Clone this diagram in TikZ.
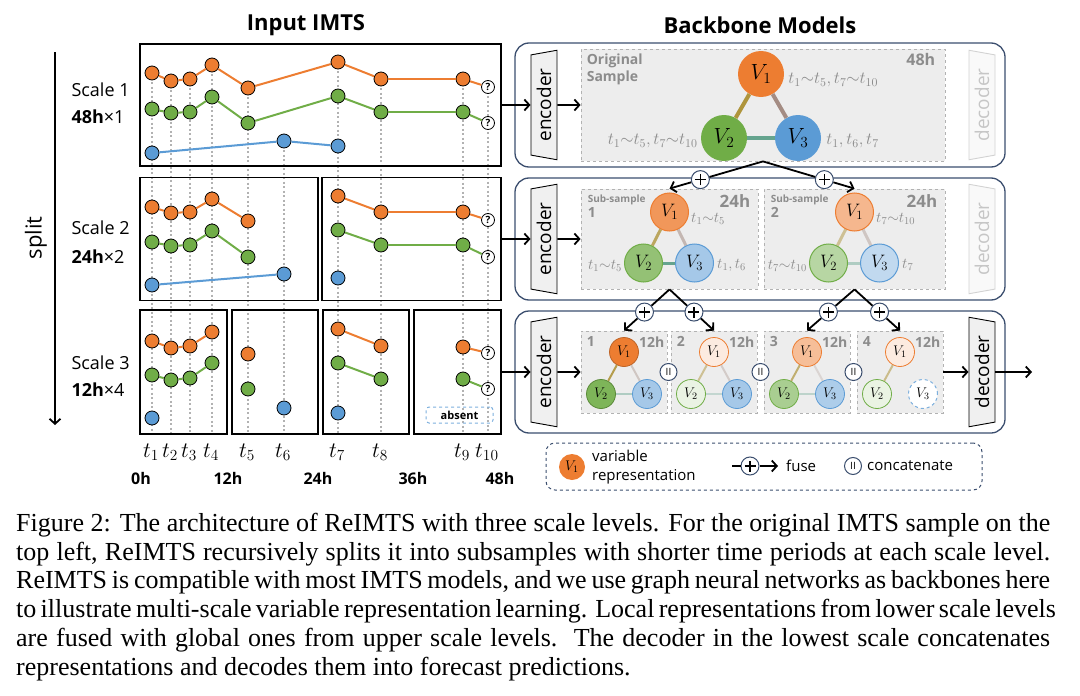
\documentclass[tikz,border=0pt]{standalone}
\usepackage{fix-cm}
\usepackage{fontspec}
\setmainfont{Liberation Serif}
\setsansfont{Open Sans}
\renewcommand{\familydefault}{\sfdefault}
\usetikzlibrary{positioning, calc, arrows.meta, shapes.geometric}

\definecolor{cOrange}{HTML}{ED7D31}
\definecolor{cGreen}{HTML}{70AD47}
\definecolor{cBlue}{HTML}{5B9BD5}
\definecolor{cNavy}{HTML}{3B4E6E}
\definecolor{cPanelGray}{HTML}{EDEDED}
\definecolor{cLabelGray}{HTML}{8C8C8C}

\newcommand{\fsz}[1]{\fontsize{#1}{#1}\selectfont}
% one variable inside one box: points and the line through them
\newcommand{\imtsline}[3]{%
  \foreach \px/\py [count=\i, remember=\i as \j (initially 0)] in {#3} {%
    \node[obs, fill=#2] (#1\i) at (\px,\py) {};
    \ifnum\i>1 \draw[obsline, draw=#2] (#1\j) -- (#1\i);\fi
  }}

\begin{document}
\begin{tikzpicture}[
		x=1pt, y=-1pt,
		>={Straight Barb[length=5pt, width=11pt]},
		arr/.style={->, line width=1.8pt},
		fline/.style={line width=1.8pt},
		obs/.style={circle, draw=black, line width=0.8pt, minimum size=14pt, inner sep=0pt},
		qobs/.style={circle, draw=black, line width=0.8pt, fill=white, minimum size=13pt, inner sep=0pt, font=\bfseries\fsz{10}},
		obsline/.style={line width=2pt},
		tdot/.style={draw=gray!60, line width=1.8pt, dash pattern=on 2pt off 2.5pt},
		lbox/.style={draw, line width=1.5pt, inner sep=0pt},
		panel/.style={draw=cNavy, line width=1.3pt, rounded corners=14pt, inner sep=0pt, minimum width=490pt},
		inbox/.style={draw=gray!60, fill=cPanelGray, dashed, line width=0.8pt, inner sep=0pt},
		coder/.style={trapezium, rotate=90, trapezium angle=77, trapezium stretches=true, minimum width=110pt, minimum height=26pt, draw, line width=0.9pt, fill=gray!12, inner sep=0pt, font=\fsz{19}},
		fadecoder/.style={coder, shape border rotate=180, draw=gray!35, fill=gray!5, text=gray!45},
		vbig/.style={circle, inner sep=0pt, minimum size=46pt, font=\fsz{22}},
		vmid/.style={circle, inner sep=0pt, minimum size=38pt, line width=1pt, font=\fsz{18}},
		vsml/.style={circle, inner sep=0pt, minimum size=29pt, line width=0.8pt, font=\fsz{14}},
		eOG/.style={draw=cOrange!50!cGreen},
		eOB/.style={draw=cOrange!50!cBlue},
		eGB/.style={draw=cGreen!50!cBlue},
		tlab/.style={text=cLabelGray, inner sep=0pt},
		boxlab/.style={text=cLabelGray, inner sep=0pt, font=\bfseries\fsz{14}},
		plusc/.style={circle, draw=cNavy, line width=1pt, fill=white, minimum size=18pt, inner sep=0pt,
			path picture={\draw[black, line width=1.6pt]
				([xshift=-5.5pt]path picture bounding box.center) -- ([xshift=5.5pt]path picture bounding box.center)
				([yshift=-5.5pt]path picture bounding box.center) -- ([yshift=5.5pt]path picture bounding box.center);}},
		catc/.style={circle, draw=cNavy, line width=1pt, fill=white, minimum size=17pt, inner sep=0pt, font=\fsz{10}},
	]
	\useasboundingbox (0,0) rectangle (1080,696);

	% titles
	\node[font=\bfseries\fsz{22}] (ttlin) at (306,25) {Input IMTS};
	\node[font=\bfseries\fsz{22}] (ttlbb) at (760,25) {Backbone Models};

	% split axis
	\coordinate (sp0) at (55,52);
	\coordinate (sp1) at (55,425);
	\draw[arr] (sp0) -- (sp1);
	\node[rotate=90, font=\fsz{22}] (splitlab) at (36,238) {split};

	% scale labels
	\node[anchor=west, font=\fsz{18}] (sc1) at (68,90) {Scale 1};
	\node[anchor=west, font=\fsz{18}] (sc1h) at (68,117) {\textbf{48h}×1};
	\node[anchor=west, font=\fsz{18}] (sc2) at (68,228) {Scale 2};
	\node[anchor=west, font=\fsz{18}] (sc2h) at (68,257) {\textbf{24h}×2};
	\node[anchor=west, font=\fsz{18}] (sc3) at (68,363) {Scale 3};
	\node[anchor=west, font=\fsz{18}] (sc3h) at (68,390) {\textbf{12h}×4};

	% time grid
	\foreach \tx/\ty in {152/73, 171/81, 190/79, 212/65, 248/88, 284/141, 338/62, 381/79, 463/79, 488/87}
		\draw[tdot] (\tx,\ty) -- (\tx,434);

	% input boxes
	\node[lbox, minimum width=361pt, minimum height=122pt] (lb1) at (320.5,105) {};
	\node[lbox, minimum width=178pt, minimum height=123pt] (lb2a) at (229,239) {};
	\node[lbox, minimum width=179pt, minimum height=123pt] (lb2b) at (411.5,239) {};
	\node[lbox, minimum width=87pt, minimum height=124pt] (lb3a) at (183.5,372) {};
	\node[lbox, minimum width=86pt, minimum height=124pt] (lb3b) at (275,372) {};
	\node[lbox, minimum width=86pt, minimum height=124pt] (lb3c) at (366,372) {};
	\node[lbox, minimum width=87pt, minimum height=124pt] (lb3d) at (457.5,372) {};

	% scale 1
	\imtsline{so}{cOrange}{152/73,171/81,190/79,212/65,248/88,338/62,381/79,463/79}
	\imtsline{sg}{cGreen}{152/109,171/113,190/112,212/97,248/123,338/96,381/112,463/112}
	\imtsline{sb}{cBlue}{152/153,284/141,338/146}
	\node[qobs] (soq) at (488,87) {?};
	\node[qobs] (sgq) at (488,123) {?};
	\draw[obsline, cOrange] (so8) -- (soq);
	\draw[obsline, cGreen] (sg8) -- (sgq);

	% scale 2
	\imtsline{hoa}{cOrange}{152/207,171/213,190/212,212/199,248/221}
	\imtsline{hga}{cGreen}{152/242,171/246,190/245,212/231,248/257}
	\imtsline{hba}{cBlue}{152/285,284/274}
	\imtsline{hob}{cOrange}{338/196,381/212,463/212}
	\imtsline{hgb}{cGreen}{338/230,381/245,463/245}
	\imtsline{hbb}{cBlue}{338/278}
	\node[qobs] (hoq) at (488,220) {?};
	\node[qobs] (hgq) at (488,257) {?};
	\draw[obsline, cOrange] (hob3) -- (hoq);
	\draw[obsline, cGreen] (hgb3) -- (hgq);

	% scale 3
	\imtsline{qoa}{cOrange}{152/341,171/348,190/346,212/332}
	\imtsline{qga}{cGreen}{152/375,171/380,190/378,212/363}
	\imtsline{qba}{cBlue}{152/418}
	\imtsline{qob}{cOrange}{248/354}
	\imtsline{qgb}{cGreen}{248/389}
	\imtsline{qbb}{cBlue}{284/408}
	\imtsline{qoc}{cOrange}{338/329,381/346}
	\imtsline{qgc}{cGreen}{338/363,381/379}
	\imtsline{qbc}{cBlue}{338/413}
	\imtsline{qod}{cOrange}{463/347}
	\imtsline{qgd}{cGreen}{463/379}
	\node[qobs] (qoq) at (488,353) {?};
	\node[qobs] (qgq) at (488,389) {?};
	\draw[obsline, cOrange] (qod1) -- (qoq);
	\draw[obsline, cGreen] (qgd1) -- (qgq);
	\node[draw=cBlue!80, dashed, line width=1pt, rounded corners=3pt, minimum width=67pt, minimum height=16pt, inner sep=0pt, font=\bfseries\fsz{11}] (absent) at (459.5,415) {absent};

	% time axis
	\foreach \tx/\tn in {152/1, 171/2, 190/3, 212/4, 248/5, 284/6, 338/7, 381/8, 463/9}
		\node[anchor=west, inner sep=0pt, font=\fsz{22}] (tl\tn) at (\tx-9,452) {$t_{\tn}$};
	\node[anchor=west, inner sep=0pt, font=\fsz{22}] (tl10) at (475,452) {$t_{10}$};
	\foreach \hx/\hn in {141/0h, 228/12h, 318/24h, 413/36h, 500/48h}
		\node[font=\bfseries\fsz{16}] at (\hx,478) {\hn};

	% backbone panels
	\node[panel, minimum height=124pt] (p1) at (760,105) {};
	\node[panel, minimum height=122pt] (p2) at (760,239) {};
	\node[panel, minimum height=122pt] (p3) at (760,372) {};
	\node[coder] (enc1) at (544,105) {encoder};
	\node[coder] (enc2) at (544,239) {encoder};
	\node[coder] (enc3) at (544,372) {encoder};
	\node[fadecoder] (dec1) at (982,105) {decoder};
	\node[fadecoder] (dec2) at (982,239) {decoder};
	\node[coder, shape border rotate=180] (dec3) at (982,372) {decoder};

	\node[inbox, minimum width=364pt, minimum height=112pt] (ib1) at (763,105) {};
	\node[inbox, minimum width=177pt, minimum height=100pt] (ib2a) at (669.5,239) {};
	\node[inbox, minimum width=181pt, minimum height=100pt] (ib2b) at (854.5,239) {};
	\node[inbox, minimum width=86pt, minimum height=82pt] (ib3a) at (624,372) {};
	\node[inbox, minimum width=86pt, minimum height=82pt] (ib3b) at (714,372) {};
	\node[inbox, minimum width=86pt, minimum height=82pt] (ib3c) at (807,372) {};
	\node[inbox, minimum width=86pt, minimum height=82pt] (ib3d) at (900,372) {};

	\draw[arr] (lb1) -- (enc1);
	\draw[arr] (lb2b) -- (enc2);
	\draw[arr] (lb3d) -- (enc3);
	\draw[arr] (enc1) -- (ib1);
	\draw[arr] (enc2) -- (ib2a);
	\draw[arr] (enc3) -- (ib3a);
	\coordinate (out3) at (1032,372);
	\draw[arr] (ib3d) -- (dec3);
	\draw[arr] (dec3) -- (out3);

	% original sample
	\node[boxlab, anchor=north west, align=left, font=\bfseries\fontsize{14}{17}\selectfont] (orig) at ([shift={(6,5)}]ib1.north west) {Original\\Sample};
	\node[boxlab, anchor=north east, font=\bfseries\fsz{16}] (len1) at ([shift={(-10,5)}]ib1.north east) {48h};
	\node[vbig, fill=cOrange] (v1) at (761,74) {$V_1$};
	\node[vbig, fill=cGreen] (v2) at (724,138) {$V_2$};
	\node[vbig, fill=cBlue] (v3) at (798,138) {$V_3$};
	\draw[eOG, line width=4pt] (v1) -- (v2);
	\draw[eOB, line width=4pt] (v1) -- (v3);
	\draw[eGB, line width=4pt] (v2) -- (v3);
	\node[tlab, font=\fsz{17}, right=4pt of v1, yshift=-6pt] (v1t) {$t_1{\sim}t_5, t_7{\sim}t_{10}$};
	\node[tlab, font=\fsz{17}, left=3pt of v2, yshift=-3pt] (v2t) {$t_1{\sim}t_5, t_7{\sim}t_{10}$};
	\node[tlab, font=\fsz{17}, right=5pt of v3, yshift=-3pt] (v3t) {$t_1, t_6, t_7$};

	% sub-samples 24h
	\node[boxlab, anchor=north west, font=\bfseries\fsz{10}] (ssa) at ([shift={(7,6)}]ib2a.north west) {Sub-sample};
	\node[boxlab, anchor=north west] (ssan) at ([yshift=-2pt]ssa.south west) {1};
	\node[boxlab, anchor=north east, font=\bfseries\fsz{17}] (lena) at ([shift={(-8,6)}]ib2a.north east) {24h};
	\node[boxlab, anchor=north west, font=\bfseries\fsz{10}] (ssb) at ([shift={(7,6)}]ib2b.north west) {Sub-sample};
	\node[boxlab, anchor=north west] (ssbn) at ([yshift=-2pt]ssb.south west) {2};
	\node[boxlab, anchor=north east, font=\bfseries\fsz{17}] (lenb) at ([shift={(-8,6)}]ib2b.north east) {24h};

	\node[vmid, fill=cOrange!80, draw=cOrange] (ma1) at (669.5,212) {$V_1$};
	\node[vmid, fill=cGreen!75, draw=cGreen] (ma2) at (643.5,263) {$V_2$};
	\node[vmid, fill=cBlue!55, draw=cBlue] (ma3) at (694.5,263) {$V_3$};
	\draw[eOG, line width=3pt, draw opacity=0.8] (ma1) -- (ma2);
	\draw[eOB, line width=3pt, draw opacity=0.55] (ma1) -- (ma3);
	\draw[eGB, line width=3pt] (ma2) -- (ma3);
	\node[tlab, font=\fsz{15}, right=2pt of ma1, yshift=-7pt] (ma1t) {$t_1{\sim}t_5$};
	\node[tlab, font=\fsz{15}, left=2pt of ma2, yshift=-3pt] (ma2t) {$t_1{\sim}t_5$};
	\node[tlab, font=\fsz{15}, right=3pt of ma3, yshift=-2pt] (ma3t) {$t_1, t_6$};

	\node[vmid, fill=cOrange!55, draw=cOrange] (mb1) at (854.5,212) {$V_1$};
	\node[vmid, fill=cGreen!50, draw=cGreen] (mb2) at (828.5,263) {$V_2$};
	\node[vmid, fill=cBlue!38, draw=cBlue] (mb3) at (879.5,263) {$V_3$};
	\draw[eOG, line width=3pt, draw opacity=0.5] (mb1) -- (mb2);
	\draw[eOB, line width=3pt, draw opacity=0.4] (mb1) -- (mb3);
	\draw[eGB, line width=3pt, draw opacity=0.45] (mb2) -- (mb3);
	\node[tlab, font=\fsz{15}, right=2pt of mb1, yshift=-7pt] (mb1t) {$t_7{\sim}t_{10}$};
	\node[tlab, font=\fsz{15}, left=2pt of mb2, yshift=-3pt] (mb2t) {$t_7{\sim}t_{10}$};
	\node[tlab, font=\fsz{15}, right=3pt of mb3, yshift=-2pt] (mb3t) {$t_7$};

	% sub-samples 12h
	\foreach \bx/\bn in {a/1, b/2, c/3, d/4} {
		\node[boxlab, anchor=north west] (n3\bx) at ([shift={(6,6)}]ib3\bx.north west) {\bn};
		\node[boxlab, anchor=north east] (l3\bx) at ([shift={(-3,6)}]ib3\bx.north east) {12h};
	}
	\node[vsml, fill=cOrange, draw=cOrange!80!black] (ka1) at (624,352) {$V_1$};
	\node[vsml, fill=cGreen!90, draw=cGreen!80!black] (ka2) at (601,394) {$V_2$};
	\node[vsml, fill=cBlue!55, draw=cBlue] (ka3) at (647,394) {$V_3$};
	\draw[eOG, line width=2pt, draw opacity=0.9] (ka1) -- (ka2);
	\draw[eOB, line width=2pt, draw opacity=0.4] (ka1) -- (ka3);
	\draw[eGB, line width=2pt, draw opacity=0.45] (ka2) -- (ka3);

	\node[vsml, fill=cOrange!15, draw=cOrange] (kb1) at (714,352) {$V_1$};
	\node[vsml, fill=cGreen!15, draw=cGreen] (kb2) at (691,394) {$V_2$};
	\node[vsml, fill=cBlue!55, draw=cBlue] (kb3) at (737,394) {$V_3$};
	\draw[eOG, line width=2pt, draw opacity=0.5] (kb1) -- (kb2);
	\draw[eOB, line width=2pt, draw opacity=0.35] (kb1) -- (kb3);
	\draw[eGB, line width=2pt, draw opacity=0.3] (kb2) -- (kb3);

	\node[vsml, fill=cOrange!50, draw=cOrange] (kc1) at (807,352) {$V_1$};
	\node[vsml, fill=cGreen!60, draw=cGreen] (kc2) at (784,394) {$V_2$};
	\node[vsml, fill=cBlue!50, draw=cBlue] (kc3) at (830,394) {$V_3$};
	\draw[eOG, line width=2pt, draw opacity=0.7] (kc1) -- (kc2);
	\draw[eOB, line width=2pt, draw opacity=0.25] (kc1) -- (kc3);
	\draw[eGB, line width=2pt, draw opacity=0.35] (kc2) -- (kc3);

	\node[vsml, fill=cOrange!15, draw=cOrange] (kd1) at (900,352) {$V_1$};
	\node[vsml, fill=cGreen!15, draw=cGreen] (kd2) at (877,394) {$V_2$};
	\node[vsml, fill=white, draw=cBlue!80, dashed, line width=1pt] (kd3) at (923,394) {$V_3$};
	\draw[eOG, line width=2pt, draw opacity=0.55] (kd1) -- (kd2);

	\node[catc] (cc1) at (668.5,372) {II};
	\node[catc] (cc2) at (760.5,372) {II};
	\node[catc] (cc3) at (853.5,372) {II};

	% fuse arrows
	\node[plusc] (fp1) at ($(ib1.south)!0.67!(ib2a.north)$) {};
	\node[plusc] (fp2) at ($(ib1.south)!0.67!(ib2b.north)$) {};
	\draw[fline] (ib1.south) -- (fp1);
	\draw[fline] (ib1.south) -- (fp2);
	\draw[arr] (fp1) -- (ib2a.north);
	\draw[arr] (fp2) -- (ib2b.north);
	\node[plusc] (fp3) at ($(ib2a.south)!0.55!(ib3a.north)$) {};
	\node[plusc] (fp4) at ($(ib2a.south)!0.55!(ib3b.north)$) {};
	\node[plusc] (fp5) at ($(ib2b.south)!0.55!(ib3c.north)$) {};
	\node[plusc] (fp6) at ($(ib2b.south)!0.55!(ib3d.north)$) {};
	\draw[fline] (ib2a.south) -- (fp3);
	\draw[fline] (ib2a.south) -- (fp4);
	\draw[fline] (ib2b.south) -- (fp5);
	\draw[fline] (ib2b.south) -- (fp6);
	\draw[arr] (fp3) -- (ib3a.north);
	\draw[arr] (fp4) -- (ib3b.north);
	\draw[arr] (fp5) -- (ib3c.north);
	\draw[arr] (fp6) -- (ib3d.north);

	% legend
	\node[draw=cNavy, dashed, line width=1pt, rounded corners=9pt, minimum width=436pt, minimum height=47pt, inner sep=0pt] (lgd) at (764,466.5) {};
	\node[vsml, fill=cOrange, minimum size=26pt] (lgv) at (572,467) {$V_1$};
	\node[anchor=west, align=left, inner sep=0pt, font=\fontsize{15}{19}\selectfont] (lgvt) at (592,467) {variable\\representation};
	\coordinate (lgf0) at (732,466);
	\node[plusc] (lgfp) at (750,466) {};
	\coordinate (lgf1) at (778,466);
	\draw[fline] (lgf0) -- (lgfp);
	\draw[arr] (lgfp) -- (lgf1);
	\node[anchor=west, inner sep=0pt, font=\fsz{15}] (lgft) at (786,466) {fuse};
	\node[catc] (lgc) at (853,466) {II};
	\node[anchor=west, inner sep=0pt, font=\fsz{15}] (lgct) at (867,466) {concatenate};

	% caption
	\node[anchor=north west, inner sep=0pt, align=left, font=\rmfamily\fontsize{26}{28.7}\selectfont] (caption) at (16,513) {%
		\makebox[1034pt][s]{Figure 2: The architecture of ReIMTS with three scale levels. For the original IMTS sample on the}\\
		\makebox[1034pt][s]{top left, ReIMTS recursively splits it into subsamples with shorter time periods at each scale level.}\\
		\makebox[1034pt][s]{ReIMTS is compatible with most IMTS models, and we use graph neural networks as backbones here}\\
		\makebox[1034pt][s]{to illustrate multi-scale variable representation learning. Local representations from lower scale levels}\\
		\makebox[1034pt][s]{are fused with global ones from upper scale levels.\ \ The decoder in the lowest scale concatenates}\\
		representations and decodes them into forecast predictions.};
\end{tikzpicture}
\end{document}
